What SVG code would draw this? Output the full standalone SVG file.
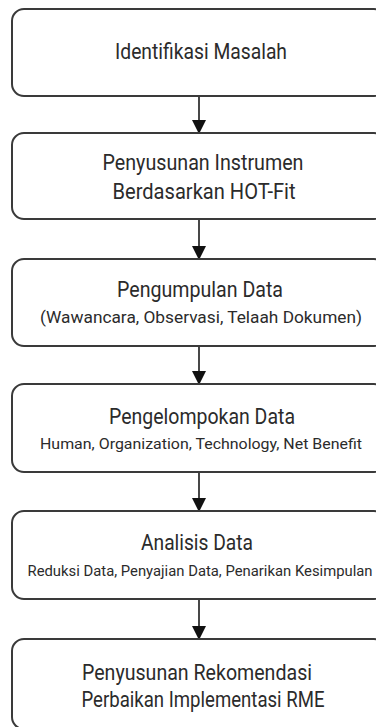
<svg xmlns="http://www.w3.org/2000/svg" width="376" height="727" viewBox="0 0 376 727">
  <style>
    .box { fill: #ffffff; stroke: #3a3a3a; stroke-width: 2; }
    .title { font-family: Roboto, "Liberation Sans", sans-serif; font-size: 22px; fill: #2b2b2b; text-anchor: middle; }
    .sub { font-family: Roboto, "Liberation Sans", sans-serif; font-size: 17px; fill: #2b2b2b; text-anchor: middle; }
    .sub-s { font-size: 15.5px; }
    .sub-xs { font-size: 14.5px; }
    .link { stroke: #1a1a1a; stroke-width: 1.6; fill: none; }
  </style>
  <defs>
    <marker id="arrow" markerUnits="userSpaceOnUse" markerWidth="14" markerHeight="14" refX="13" refY="7" orient="auto">
      <path d="M0,0 L14,7 L0,14 Z" fill="#111111"/>
    </marker>
  </defs>
  <rect width="376" height="727" fill="#ffffff"/>

  <g id="connectors">
    <line class="link" x1="199" y1="96" x2="199" y2="133" marker-end="url(#arrow)"/>
    <line class="link" x1="199" y1="219" x2="199" y2="259" marker-end="url(#arrow)"/>
    <line class="link" x1="199" y1="346" x2="199" y2="384" marker-end="url(#arrow)"/>
    <line class="link" x1="199" y1="472" x2="199" y2="511" marker-end="url(#arrow)"/>
    <line class="link" x1="199" y1="599" x2="199" y2="639" marker-end="url(#arrow)"/>
  </g>

  <g id="step1">
    <rect class="box" x="12" y="9" width="374" height="87" rx="12"/>
    <text class="title" x="201" y="59" textLength="172" lengthAdjust="spacingAndGlyphs">Identifikasi Masalah</text>
  </g>

  <g id="step2">
    <rect class="box" x="12" y="133" width="374" height="86" rx="12"/>
    <text class="title" x="203" y="170" textLength="201" lengthAdjust="spacingAndGlyphs">Penyusunan Instrumen</text>
    <text class="title" x="204" y="199" textLength="183" lengthAdjust="spacingAndGlyphs">Berdasarkan HOT-Fit</text>
  </g>

  <g id="step3">
    <rect class="box" x="12" y="259" width="374" height="87" rx="12"/>
    <text class="title" x="200" y="297" textLength="166" lengthAdjust="spacingAndGlyphs">Pengumpulan Data</text>
    <text class="sub" x="201" y="323" textLength="322" lengthAdjust="spacingAndGlyphs">(Wawancara, Observasi, Telaah Dokumen)</text>
  </g>

  <g id="step4">
    <rect class="box" x="12" y="384" width="374" height="88" rx="12"/>
    <text class="title" x="202" y="424" textLength="186" lengthAdjust="spacingAndGlyphs">Pengelompokan Data</text>
    <text class="sub sub-s" x="201" y="449" textLength="322" lengthAdjust="spacingAndGlyphs">Human, Organization, Technology, Net Benefit</text>
  </g>

  <g id="step5">
    <rect class="box" x="12" y="511" width="374" height="88" rx="12"/>
    <text class="title" x="197" y="550" textLength="112" lengthAdjust="spacingAndGlyphs">Analisis Data</text>
    <text class="sub sub-xs" x="200" y="576" textLength="345" lengthAdjust="spacingAndGlyphs">Reduksi Data, Penyajian Data, Penarikan Kesimpulan</text>
  </g>

  <g id="step6">
    <rect class="box" x="12" y="639" width="374" height="90" rx="12"/>
    <text class="title" x="197" y="680" textLength="230" lengthAdjust="spacingAndGlyphs">Penyusunan Rekomendasi</text>
    <text class="title" x="203" y="707" textLength="243" lengthAdjust="spacingAndGlyphs">Perbaikan Implementasi RME</text>
  </g>
</svg>
